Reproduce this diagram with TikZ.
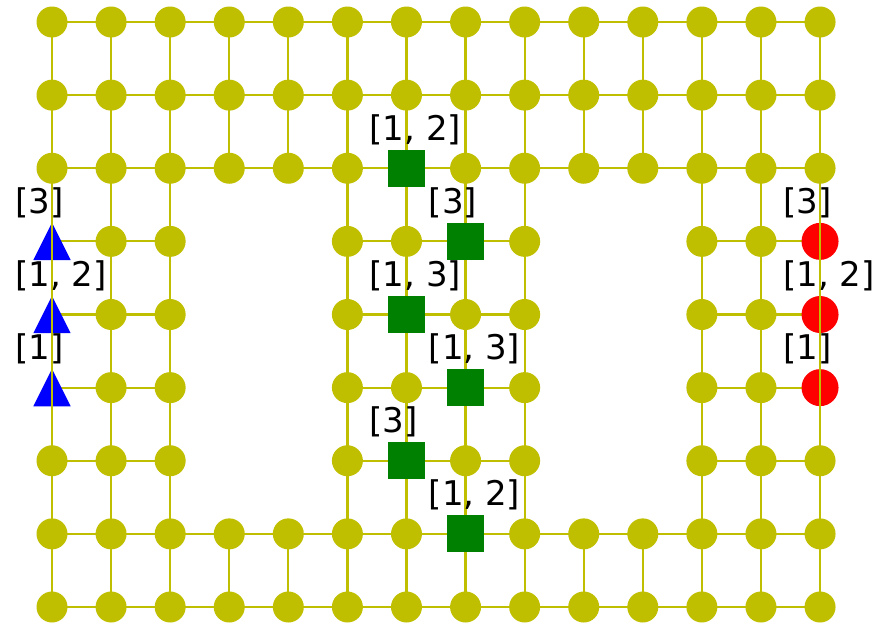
\documentclass[tikz,border=0pt]{standalone}
\usepackage{fontspec}
\setmainfont{DejaVu Sans}
\definecolor{yel}{RGB}{191,191,0}
\definecolor{grn}{RGB}{0,128,0}
\begin{document}
\begin{tikzpicture}[x=1pt,y=-1pt,
  edge/.style={yel,line width=2.2pt},
  yelnode/.style={circle,fill=yel,inner sep=0pt,minimum size=31pt},
  sqnode/.style={rectangle,fill=grn,inner sep=0pt,minimum size=37pt},
  rednode/.style={circle,fill=red,inner sep=0pt,minimum size=37pt},
  markbox/.style={rectangle,inner sep=0pt,minimum size=37pt},
  lab/.style={inner sep=0pt,anchor=base west,font=\fontsize{34}{37}\selectfont}]
\useasboundingbox (0,0) rectangle (894,624);
\foreach \i in {0,...,13}
  \foreach \j in {0,...,8}
    \coordinate (p-\i-\j) at ({52+59.08*\i},{22+73.125*\j});
% horizontal edges
\foreach \j in {0,1,2,7,8} \draw[edge] (p-0-\j) -- (p-13-\j);
\foreach \j in {3,...,6} {
  \draw[edge] (p-0-\j) -- (p-2-\j);
  \draw[edge] (p-5-\j) -- (p-8-\j);
  \draw[edge] (p-11-\j) -- (p-13-\j);
}
% blue triangles and red circles
\foreach \j/\n in {3/1,4/2,5/3} {
  \node[markbox] (t\n) at (p-0-\j) {};
  \fill[blue] (t\n.north) -- (t\n.south east) -- (t\n.south west) -- cycle;
  \node[rednode] (r\n) at (p-13-\j) {};
}
% vertical edges
\foreach \i in {0,1,2,5,6,7,8,11,12,13} \draw[edge] (p-\i-0) -- (p-\i-8);
\foreach \i in {3,4,9,10} {
  \draw[edge] (p-\i-0) -- (p-\i-2);
  \draw[edge] (p-\i-7) -- (p-\i-8);
}
% yellow nodes
\foreach \i in {0,...,13}
  \foreach \j in {0,...,8} {
    \pgfmathtruncatemacro\hole{and(or(or(\i==3,\i==4),or(\i==9,\i==10)),and(\j>2,\j<7))}
    \pgfmathtruncatemacro\specA{and(or(\i==0,\i==13),and(\j>2,\j<6))}
    \pgfmathtruncatemacro\specB{or(and(\i==6,or(\j==2,or(\j==4,\j==6))),and(\i==7,or(\j==3,or(\j==5,\j==7))))}
    \pgfmathtruncatemacro\skip{or(\hole,or(\specA,\specB))}
    \ifnum\skip=0 \node[yelnode] (n-\i-\j) at (p-\i-\j) {}; \fi
  }
% green squares
\node[sqnode] (s1) at (p-6-2) {};
\node[sqnode] (s2) at (p-7-3) {};
\node[sqnode] (s3) at (p-6-4) {};
\node[sqnode] (s4) at (p-7-5) {};
\node[sqnode] (s5) at (p-6-6) {};
\node[sqnode] (s6) at (p-7-7) {};
% labels
\node[lab] (ls1) at ([shift={(-37,-28)}]s1) {[1, 2]};
\node[lab] (ls2) at ([shift={(-37,-28)}]s2) {[3]};
\node[lab] (ls3) at ([shift={(-37,-28)}]s3) {[1, 3]};
\node[lab] (ls4) at ([shift={(-37,-28)}]s4) {[1, 3]};
\node[lab] (ls5) at ([shift={(-37,-28)}]s5) {[3]};
\node[lab] (ls6) at ([shift={(-37,-28)}]s6) {[1, 2]};
\node[lab] (lt1) at ([shift={(-37,-28)}]t1) {[3]};
\node[lab] (lt2) at ([shift={(-37,-28)}]t2) {[1, 2]};
\node[lab] (lt3) at ([shift={(-37,-28)}]t3) {[1]};
\node[lab] (lr1) at ([shift={(-37,-28)}]r1) {[3]};
\node[lab] (lr2) at ([shift={(-37,-28)}]r2) {[1, 2]};
\node[lab] (lr3) at ([shift={(-37,-28)}]r3) {[1]};
\end{tikzpicture}
\end{document}
